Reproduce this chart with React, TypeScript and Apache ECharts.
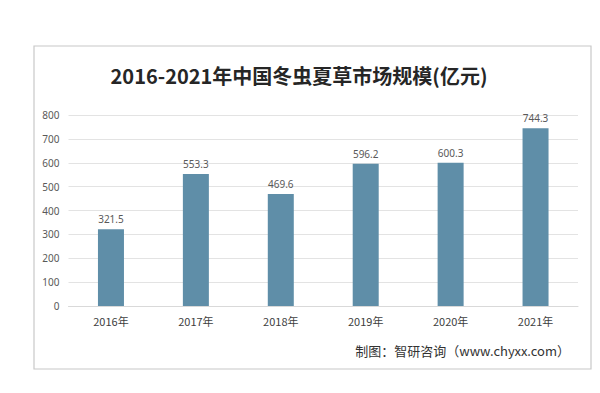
import React, { useEffect, useRef } from "react";
import * as echarts from "echarts";

const categories = ["2016年", "2017年", "2018年", "2019年", "2020年", "2021年"];
const marketSize = [321.5, 553.3, 469.6, 596.2, 600.3, 744.3];
const titleText = "2016-2021年中国冬虫夏草市场规模(亿元)";
const sourceText = "制图：智研咨询（www.chyxx.com）";

export default function App() {
  const ref = useRef<HTMLDivElement>(null);
  useEffect(() => {
    if (!ref.current) return;
    const chart = echarts.init(ref.current, null, { renderer: "svg" });
    chart.setOption({
      animation: false,
      backgroundColor: "#ffffff",
      title: {
        text: titleText,
        left: 294,
        top: 60,
        textAlign: "center",
        textStyle: {
          fontFamily: "'Noto Sans CJK SC', 'Noto Sans', sans-serif",
          fontSize: 20,
          fontWeight: "bold",
          color: "#262626",
        },
      },
      graphic: [
        {
          type: "rect",
          shape: { x: 34, y: 46, width: 557, height: 323 },
          style: { fill: "none", stroke: "#c8c8c8", lineWidth: 1.2 },
          silent: true,
        },
        {
          type: "text",
          right: 30,
          top: 344,
          style: {
            text: sourceText,
            fontFamily: "'Noto Sans CJK SC', sans-serif",
            fontSize: 13,
            fill: "#333333",
          },
        },
      ],
      grid: { left: 68.5, right: 22, top: 115, bottom: 87 },
      xAxis: {
        type: "category",
        data: categories,
        axisLine: { lineStyle: { color: "#d9d9d9" } },
        axisTick: { show: false },
        axisLabel: {
          margin: 9,
          fontSize: 11,
          color: "#404040",
          fontFamily: "'Noto Sans CJK SC', sans-serif",
        },
      },
      yAxis: {
        type: "value",
        min: 0,
        max: 800,
        interval: 100,
        axisLine: { show: false },
        axisTick: { show: false },
        splitLine: { lineStyle: { color: "#e3e3e3" } },
        axisLabel: {
          margin: 9,
          fontSize: 10,
          color: "#595959",
          fontFamily: "'Noto Sans', sans-serif",
        },
      },
      series: [
        {
          type: "bar",
          data: marketSize,
          barWidth: 26,
          itemStyle: { color: "#5f8ea8" },
          label: {
            show: true,
            position: "top",
            distance: 5,
            fontSize: 10,
            color: "#595959",
            fontFamily: "'Noto Sans', sans-serif",
          },
        },
      ],
    });
    return () => chart.dispose();
  }, []);
  return (
    <div
      ref={ref}
      style={{ position: "fixed", left: 0, top: 0, width: 600, height: 393 }}
    />
  );
}
